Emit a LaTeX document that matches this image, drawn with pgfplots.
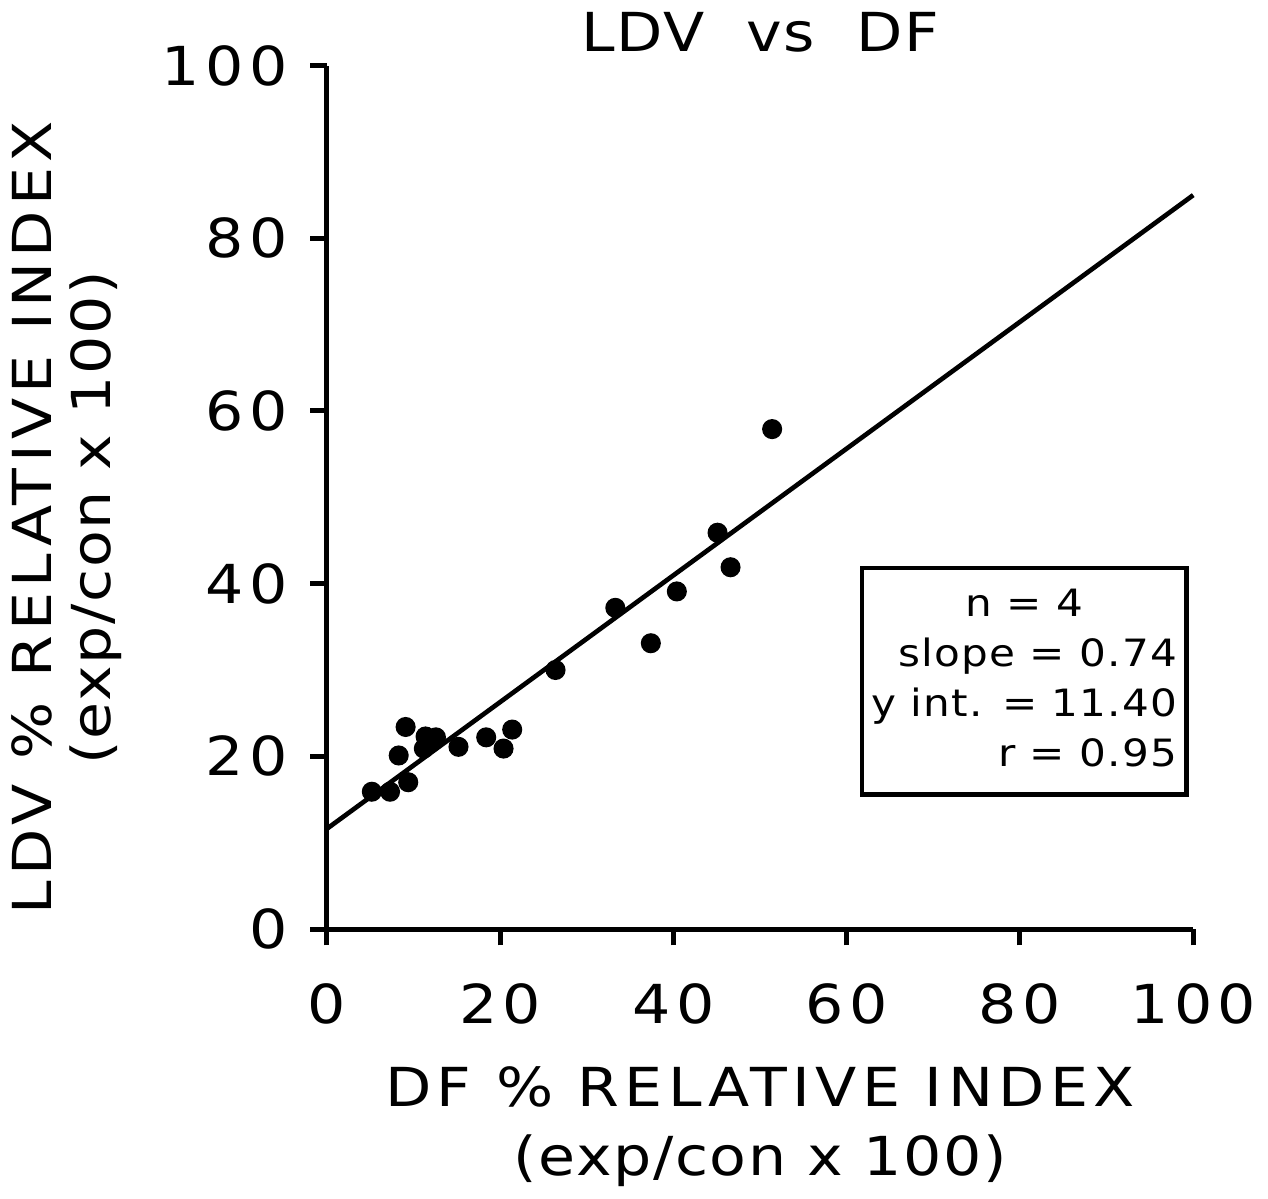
\documentclass[border=0pt]{standalone}
\usepackage{pgfplots}
\pgfplotsset{compat=1.18}
\usepackage{fontspec}
\setmainfont{DejaVu Sans}[FakeStretch=1.12, LetterSpace=10]
\newfontfamily\tight{DejaVu Sans}[FakeStretch=1.12, LetterSpace=3]
\begin{document}
\begin{tikzpicture}
\begin{axis}[
  width=8.5cm, height=8.47cm, scale only axis,
  xmin=0, xmax=100, ymin=0, ymax=100,
  axis lines*=left,
  axis line style={line width=1.4pt},
  xtick={0,20,...,100}, ytick={0,20,...,100},
  tick style={line width=1.4pt, black},
  tick align=outside, major tick length=0.16cm,
  /pgf/number format/assume math mode=true,
  tick label style={font=\fontsize{15}{18}\selectfont},
  xticklabel style={yshift=-0.25cm},
  yticklabel style={xshift=-0.1cm},
  xlabel={DF \% RELATIVE INDEX\\{\tight (exp/con x 100)}},
  ylabel={LDV \% RELATIVE INDEX\\{\tight (exp/con x 100)}},
  xlabel style={align=center, font=\fontsize{15}{19}\selectfont, yshift=-0.18cm},
  ylabel style={align=center, font=\fontsize{15}{16.5}\selectfont, yshift=0.15cm, xshift=-0.2cm},
  title={\tight LDV\ \ vs\ \ DF},
  title style={font=\fontsize{15}{18}\selectfont, yshift=-0.2cm},
  clip=false,
]
\addplot[black, line width=1.3pt] coordinates {(0,11.6) (100,85)};
\addplot[only marks, mark=*, mark size=2.6pt, black] coordinates {
  (5.2,15.9) (7.3,15.9) (9.4,17.0) (8.3,20.1) (9.1,23.4)
  (11.4,22.3) (12.6,22.2) (11.2,20.9) (12.0,21.6)
  (15.2,21.1) (18.4,22.2) (20.4,20.9) (21.4,23.1)
  (26.4,30.0) (33.3,37.2) (37.4,33.1) (40.4,39.1)
  (45.1,45.9) (46.6,41.9) (51.4,57.9)
};
\node[draw, line width=1.2pt, minimum width=3.18cm, minimum height=2.22cm,
  font=\tight\fontsize{10.5}{14}\selectfont, inner sep=2pt] at (axis cs:80.5,28.7)
  {\begin{tabular}{@{}r@{}}
   \multicolumn{1}{@{}c@{}}{n = 4}\\
   slope = 0.74\\
   y int. = 11.40\\
   r = 0.95
   \end{tabular}};
\end{axis}
\end{tikzpicture}
\end{document}
